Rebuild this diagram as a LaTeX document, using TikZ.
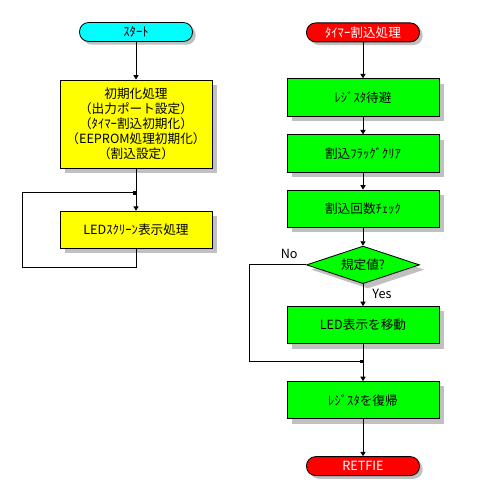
\documentclass[tikz,border=0pt]{standalone}
\usepackage{fontspec}
\setmainfont{Noto Sans CJK JP}
\usepackage{tikz}
\usetikzlibrary{positioning, arrows.meta, shapes.geometric, shadows}
\definecolor{pillcyan}{RGB}{0,255,255}
\definecolor{pillred}{RGB}{255,0,0}
\definecolor{boxyellow}{RGB}{255,255,0}
\definecolor{boxgreen}{RGB}{0,255,0}
\definecolor{shade}{RGB}{192,192,192}

\begin{document}
\begin{tikzpicture}[
  font=\fontsize{9}{10.6}\selectfont,
  line width=0.6pt,
  shd/.style={drop shadow={shadow xshift=1.2mm, shadow yshift=-1.2mm, fill=shade, opacity=1}},
  pill/.style={draw=black, rounded corners=2.3mm, minimum width=28.25mm,
               minimum height=4.75mm, inner sep=0pt,
               drop shadow={shadow xshift=0.8mm, shadow yshift=-0.8mm, fill=shade, opacity=1}},
  procbox/.style={draw=black, shd, minimum width=38mm, minimum height=9.3mm,
                  align=center, inner sep=0pt},
  decbox/.style={draw=black, fill=boxgreen, shape=diamond, aspect=3, shd,
                 minimum width=28.25mm, minimum height=9.4mm, inner sep=0pt},
  arr/.style={-{Triangle[length=1.1mm, width=1.3mm]}, draw=black},
  joinarr/.style={-{Square[length=0.8mm, width=0.8mm]}, draw=black},
  lbl/.style={inner sep=0pt}
]
\useasboundingbox (0,0) rectangle (124.75mm,-124.5mm);

% main routine
\node[pill, fill=pillcyan] (start) at (34mm,-8mm) {ｽﾀｰﾄ};
\node[procbox, fill=boxyellow, minimum height=22mm, below=9.4mm of start] (init)
  {初期化処理\\（出力ポート設定）\\（ﾀｲﾏｰ割込初期化）\\（EEPROM処理初期化）\\（割込設定）};
\node[procbox, fill=boxyellow, below=10.6mm of init] (led) {LEDｽｸﾘｰﾝ表示処理};
\coordinate (jl) at ([yshift=4.5mm]led.north);

\draw[arr] (start) -- (init);
\draw[arr] (init) -- (led);
\draw[joinarr] (led.south) -- ++(0,-4.75mm) -- ++(-28.5mm,0) |- (jl);

% timer interrupt
\node[pill, fill=pillred, text=white] (irq) at (90.75mm,-8.1mm) {ﾀｲﾏｰ割込処理};
\node[procbox, fill=boxgreen, below=9mm of irq] (save) {ﾚｼﾞｽﾀ待避};
\node[procbox, fill=boxgreen, below=4.5mm of save] (flag) {割込ﾌﾗｯｸﾞｸﾘｱ};
\node[procbox, fill=boxgreen, below=4.3mm of flag] (cnt) {割込回数ﾁｪｯｸ};
\node[decbox, below=4.5mm of cnt] (chk) {規定値?};
\node[procbox, fill=boxgreen, below=5.5mm of chk] (move) {LED表示を移動};
\node[procbox, fill=boxgreen, below=9.25mm of move] (rest) {ﾚｼﾞｽﾀを復帰};
\node[pill, fill=pillred, text=white, below=9.25mm of rest] (ret) {RETFIE};
\coordinate (jr) at ([yshift=-4.25mm]move.south);

\node[lbl, above left=1.5mm and 2mm of chk.west] (no) {No};
\node[lbl, below right=1.25mm and 2.25mm of chk.south] (yes) {Yes};

\draw[arr] (irq) -- (save);
\draw[arr] (save) -- (flag);
\draw[arr] (flag) -- (cnt);
\draw[arr] (cnt) -- (chk);
\draw[arr] (chk) -- (move);
\draw[arr] (move) -- (rest);
\draw[arr] (rest) -- (ret);
\draw[joinarr] (chk.west) -- ++(-14.25mm,0) |- (jr);

\end{tikzpicture}
\end{document}
